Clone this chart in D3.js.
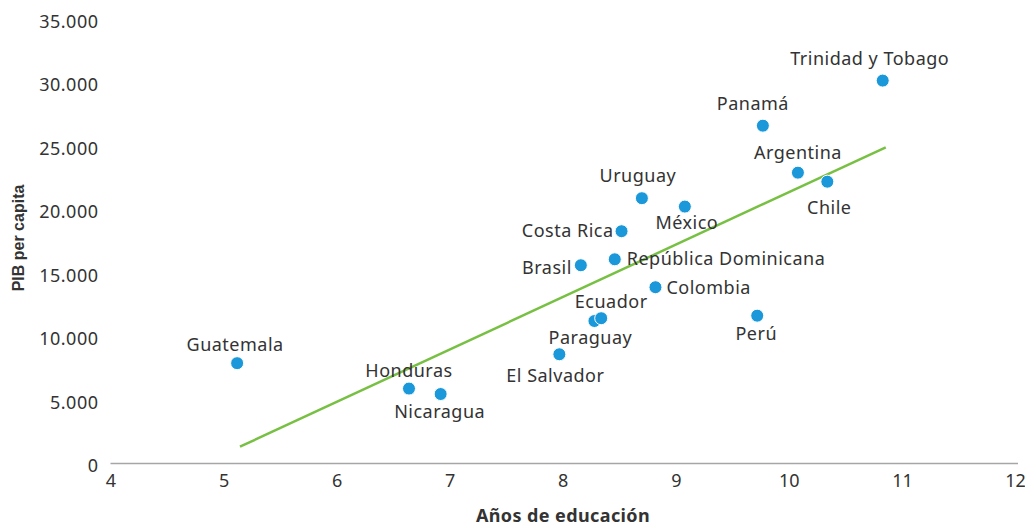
<!DOCTYPE html>
<html>
<head>
<meta charset="utf-8">
<script src="https://cdn.jsdelivr.net/npm/d3@7"></script>
<style>
  body { margin: 0; background: #fff; }
  text { font-family: "Noto Sans", sans-serif; fill: #333; }
</style>
</head>
<body>
<script>
var w = 1025,
    h = 526;

// datos
var paises = ["Guatemala", "Honduras", "Nicaragua", "El Salvador", "Paraguay", "Ecuador", "Perú",
    "Colombia", "Brasil", "República Dominicana", "Costa Rica", "Uruguay", "México",
    "Argentina", "Chile", "Panamá", "Trinidad y Tobago"];
var educacion = [5.12, 6.64, 6.92, 7.97, 8.28, 8.34, 9.72, 8.82, 8.16, 8.46, 8.52, 8.70, 9.08,
    10.08, 10.34, 9.77, 10.83];
var pib = [7900, 5900, 5470, 8600, 11220, 11440, 11640, 13880, 15610, 16080, 18290, 20890, 20230,
    22900, 22190, 26600, 30150];

var tendenciaX = [5.145, 10.857];
var tendenciaY = [1320, 24900];

var xTicks = [4, 5, 6, 7, 8, 9, 10, 11, 12];
var yTicks = [0, 5000, 10000, 15000, 20000, 25000, 30000, 35000];

// donde va cada etiqueta respecto a su punto (anchor, dx, dy)
var etiquetas = {
    "Guatemala": ["middle", -2, -18],
    "Honduras": ["middle", 0, -18],
    "Nicaragua": ["middle", -1, 18],
    "El Salvador": ["middle", -4, 21],
    "Paraguay": ["middle", -4, 17],
    "Ecuador": ["middle", 10, -17],
    "Perú": ["middle", -1, 18],
    "Colombia": ["start", 11, 0],
    "Brasil": ["end", -9, 2],
    "República Dominicana": ["start", 12, -1],
    "Costa Rica": ["end", -8, -1],
    "Uruguay": ["middle", -4, -22],
    "México": ["middle", 2, 16],
    "Argentina": ["middle", 0, -20],
    "Chile": ["middle", 2, 26],
    "Panamá": ["middle", -10, -22],
    "Trinidad y Tobago": ["middle", -13, -22]
};

var margin = {top: 19, right: 10, bottom: 62.5, left: 110.5};

var svg = d3.select("body")
    .append("svg")
    .attr("width", w)
    .attr("height", h);

var x = d3.scaleLinear()
    .domain([4, 12])
    .range([margin.left, 1015]);

var y = d3.scaleLinear()
    .domain([0, 35000])
    .range([h - margin.bottom, margin.top]);

var fmt = function(d) {
    return d3.format(",")(d).replace(/,/g, ".");
};

// eje x
var xAxis = svg.append("g")
    .attr("transform", "translate(0," + y(0) + ")")
    .call(d3.axisBottom(x).tickValues(xTicks).tickSize(0).tickPadding(11));
xAxis.select(".domain").attr("stroke", "#a6a6a6").attr("stroke-width", 1.5)
    .attr("d", "M" + x(4) + ",0H" + (x(12) + 3));
xAxis.selectAll("text")
    .style("font-size", "18px")
    .style("font-family", "Noto Sans")
    .attr("fill", "#3a3a3a");

// eje y
var yAxis = svg.append("g")
    .attr("transform", "translate(" + x(4) + ",0)")
    .call(d3.axisLeft(y).tickValues(yTicks).tickFormat(fmt).tickSize(0).tickPadding(12));
yAxis.select(".domain").remove();
yAxis.selectAll("text")
    .attr("dy", "0.45em")
    .style("font-size", "18px")
    .style("font-family", "Noto Sans")
    .style("letter-spacing", "0.5px")
    .attr("fill", "#3a3a3a");

// linea de tendencia
svg.append("line")
    .attr("x1", x(tendenciaX[0]))
    .attr("y1", y(tendenciaY[0]))
    .attr("x2", x(tendenciaX[1]))
    .attr("y2", y(tendenciaY[1]))
    .attr("stroke", "#78c043")
    .attr("stroke-width", 2.5);

var datos = paises.map(function(p, i) {
    return {pais: p, x: educacion[i], y: pib[i]};
});

svg.selectAll("circle")
    .data(datos)
    .enter()
    .append("circle")
    .attr("cx", function(d) { return x(d.x); })
    .attr("cy", function(d) { return y(d.y); })
    .attr("r", 6.5)
    .attr("fill", "#1b98d9")
    .attr("stroke", "#fff")
    .attr("stroke-width", 1);

svg.selectAll(".etiqueta")
    .data(datos)
    .enter()
    .append("text")
    .attr("class", "etiqueta")
    .attr("x", function(d) { return x(d.x) + etiquetas[d.pais][1]; })
    .attr("y", function(d) { return y(d.y) + etiquetas[d.pais][2]; })
    .attr("dy", "0.35em")
    .attr("text-anchor", function(d) { return etiquetas[d.pais][0]; })
    .style("font-size", "18px")
    .style("letter-spacing", "0.5px")
    .text(function(d) { return d.pais; });

// titulos
svg.append("text")
    .attr("x", 563)
    .attr("y", 516)
    .attr("dy", "0.35em")
    .attr("text-anchor", "middle")
    .style("font-size", "18px")
    .style("font-weight", "bold")
    .style("letter-spacing", "0.4px")
    .text("Años de educación");

svg.append("text")
    .attr("transform", "translate(18.5,238) rotate(-90)")
    .attr("dy", "0.35em")
    .attr("text-anchor", "middle")
    .style("font-family", "Liberation Sans, Arial, sans-serif")
    .style("font-size", "16px")
    .style("font-weight", "bold")
    .attr("fill", "#000")
    .text("PIB per capita");
</script>
</body>
</html>
